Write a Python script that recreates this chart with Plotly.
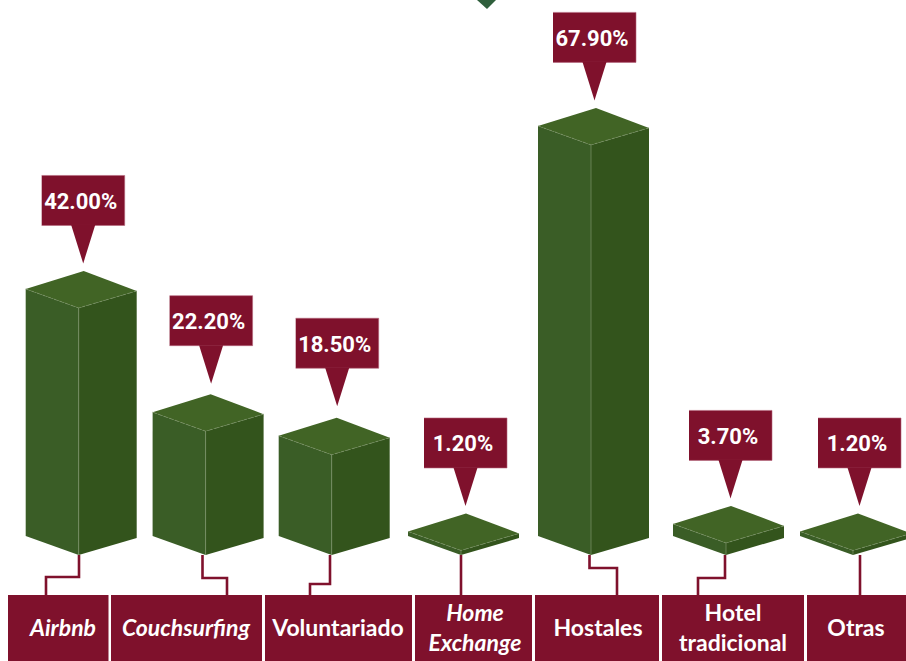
import plotly.graph_objects as go

# Data
categorias = ['<i>Airbnb</i>', '<i>Couchsurfing</i>', 'Voluntariado', '<i>Home<br>Exchange</i>',
              'Hostales', 'Hotel<br>tradicional', 'Otras']
valores = [42.0, 22.2, 18.5, 1.2, 67.9, 3.7, 1.2]
# height of each block as drawn (the original art is not exactly to scale)
alturas = [40.9, 20.5, 16.6, 0.75, 67.9, 2.0, 0.75]

# Layout of the graphic, x axis is in page pixels
centros = [78.7, 205.6, 331.7, 461, 591, 726, 853]
cajas = [(8, 108.5), (111, 262), (265, 412), (415, 532), (535, 659), (662, 804), (807, 906)]
centros_texto = [63, 186, 338, 475, 598, 733, 856]
# connector: x at the bar, y of the bend (px below the base), x at the label box
conectores = [(79, 22, 46), (202.5, 23, 227), (330, 29, 310), (461, 0, 461),
              (589.5, 13, 617), (725, 23, 698), (860, 0, 860)]
# callout shifts (px right, px up) where the artwork moved them by hand
ajuste_globo = [(0, 0), (1, 3), (1, 4), (0, 0), (-1, 0), (0, 0), (2, 0)]

VINO = '#7f112c'
BORDE = '#b5677c'
TAPA = '#416425'
CARA_IZQ = '#3a5d26'
CARA_DER = '#33541c'
ARISTA = '#7d9468'
ROMBO = '#2f5f3c'

PX = 6.04  # pixels per percentage point
BASE = 555  # page y of the bar base
W, H = 906, 661


def u(px):
    # page pixels to y axis units
    return px / PX


def poly(fig, xs, ys, color, line_color=None, line_width=0):
    fig.add_trace(go.Scatter(x=xs, y=ys, mode='lines', fill='toself', fillcolor=color,
                             line=dict(color=line_color or color, width=line_width),
                             hoverinfo='skip', showlegend=False))


def linea(fig, xs, ys, color, width, dash='solid'):
    fig.add_trace(go.Scatter(x=xs, y=ys, mode='lines', line=dict(color=color, width=width, dash=dash),
                             hoverinfo='skip', showlegend=False))


def texto(fig, x, y, txt, size, family):
    fig.add_trace(go.Scatter(x=[x], y=[y], mode='text', text=[txt],
                             textfont=dict(family=family, size=size, color='white', weight='bold'),
                             hoverinfo='skip', showlegend=False))


fig = go.Figure()

# small marker cut by the top edge
poly(fig, [477, 496, 487], [u(BASE), u(BASE), u(BASE - 9)], ROMBO)

for cat, val, alt, cx, caja, tx, con, aj in zip(categorias, valores, alturas, centros, cajas,
                                                centros_texto, conectores, ajuste_globo):
    # connector from the block to the label box
    x0, bend, x1 = con
    linea(fig, [x0, x0, x1, x1], [0, -u(bend or 20), -u(bend or 20), -u(40)], VINO, 2.6)

    # label box
    poly(fig, [caja[0], caja[1], caja[1], caja[0]], [-u(40), -u(40), -u(106), -u(106)], VINO)
    texto(fig, tx, -u(75.5), cat, 23, 'Lato')

    # block faces
    izq, der = cx - 53, cx + 58
    poly(fig, [izq, cx, cx, izq], [u(19), 0, alt, alt + u(19)], CARA_IZQ)
    poly(fig, [cx, der, der, cx], [0, u(17), alt + u(17), alt], CARA_DER)
    poly(fig, [izq, cx, der, cx + 5], [alt + u(19), alt, alt + u(17), alt + u(37)], TAPA)
    linea(fig, [izq, cx, der], [alt + u(19), alt, alt + u(17)], ARISTA, 0.7, 'dot')
    linea(fig, [cx, cx], [0, alt], ARISTA, 0.7)

    # value callout
    xp = cx + 4.5 + aj[0]
    yp = alt + u(44.5 + aj[1])
    poly(fig, [xp - 41.5, xp + 41.5, xp + 41.5, xp - 41.5],
         [yp + u(38), yp + u(38), yp + u(88), yp + u(88)], VINO, BORDE, 0.6)
    poly(fig, [xp - 12, xp + 12, xp], [yp + u(38.5), yp + u(38.5), yp], VINO)
    texto(fig, xp - 2.5, yp + u(60), f'{val:.2f}%', 22, 'Roboto')

fig.update_layout(
    width=W,
    height=H,
    margin=dict(l=0, r=0, t=0, b=0),
    paper_bgcolor='white',
    plot_bgcolor='white',
    xaxis=dict(range=[0, W], visible=False, fixedrange=True),
    yaxis=dict(range=[u(BASE - H), u(BASE)], visible=False, fixedrange=True),
    showlegend=False,
)

fig.write_html('out.html', post_script="document.body.style.margin='0';", config=dict(displayModeBar=False))
